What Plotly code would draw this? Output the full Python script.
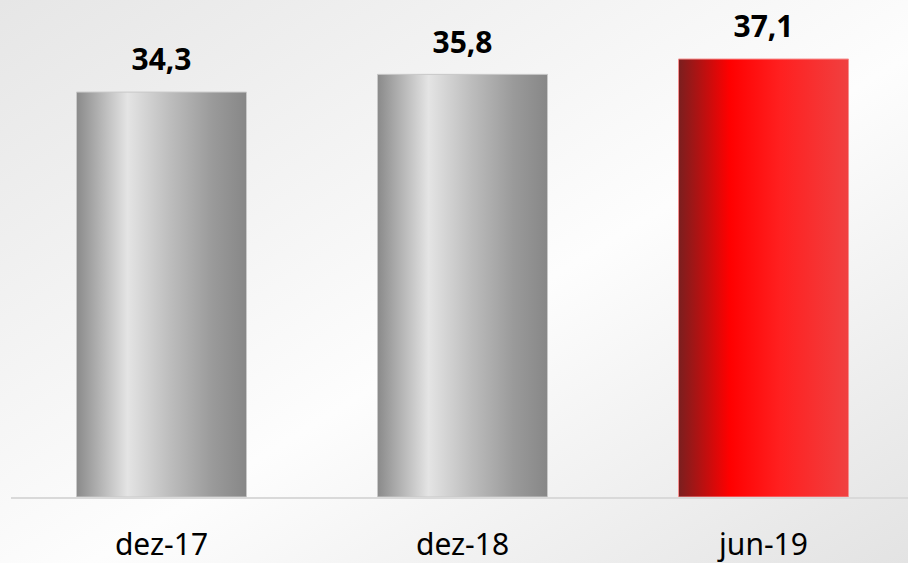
import base64
import plotly.graph_objects as go

categories = ["dez-17", "dez-18", "jun-19"]
values = [34.3, 35.8, 37.1]
label_texts = ["34,3", "35,8", "37,1"]

gray_scale = [[0.0, "#8a8a8a"], [0.3, "#e4e4e4"], [0.55, "#bdbdbd"], [0.8, "#9a9a9a"], [1.0, "#878787"]]
red_scale = [[0.0, "#7a1f1f"], [0.3, "#ff0000"], [0.6, "#ff2020"], [1.0, "#f04040"]]
scales = [gray_scale, gray_scale, red_scale]
borders = ["#c8c8c8", "#c8c8c8", "#f59090"]

half = 0.2824
fig = go.Figure()
for i, (cat, v) in enumerate(zip(categories, values)):
    xs = [i - half, i + half, i + half, i - half, i - half]
    ys = [0, 0, v, v, 0]
    fig.add_trace(go.Scatter(
        x=xs, y=ys, mode="lines", fill="toself",
        line=dict(color=borders[i], width=1),
        fillgradient=dict(type="horizontal", colorscale=scales[i]),
        hoverinfo="skip", showlegend=False, name=cat,
    ))

fig.add_trace(go.Scatter(
    x=list(range(len(categories))), y=values, mode="markers+text",
    marker=dict(size=21, opacity=0),
    text=label_texts, textposition="top center",
    textfont=dict(family="Noto Sans", size=30, color="#000000", weight="bold"),
    showlegend=False, hoverinfo="skip",
))

svg = ('<svg xmlns="http://www.w3.org/2000/svg" width="908" height="563" preserveAspectRatio="none">'
       '<defs><linearGradient id="g" x1="0" y1="0" x2="1" y2="1">'
       '<stop offset="0" stop-color="#e6e6e6"/>'
       '<stop offset="0.55" stop-color="#fdfdfd"/>'
       '<stop offset="1" stop-color="#e3e3e3"/>'
       '</linearGradient></defs>'
       '<rect width="908" height="563" fill="url(#g)"/></svg>')
src = "data:image/svg+xml;base64," + base64.b64encode(svg.encode()).decode()

fig.update_layout(
    width=908, height=563,
    margin=dict(l=11, r=0, t=0, b=66),
    paper_bgcolor="rgba(0,0,0,0)", plot_bgcolor="rgba(0,0,0,0)",
    images=[dict(source=src, xref="paper", yref="paper", x=-0.0123, y=1,
                 sizex=1.0123, sizey=1.133, sizing="stretch", layer="below",
                 xanchor="left", yanchor="top")],
    xaxis=dict(range=[-0.5, 2.48], tickvals=list(range(len(categories))),
               ticktext=categories, showgrid=False, zeroline=False,
               showline=True, linecolor="#d9d9d9", linewidth=2, ticks="",
               ticklabelstandoff=20,
               tickfont=dict(family="Noto Sans", size=30, color="#000000"),
               fixedrange=True),
    yaxis=dict(range=[0, 42.1], visible=False, showgrid=False, zeroline=False,
               fixedrange=True),
    font=dict(family="Noto Sans"),
)

fig.write_html("out.html", config={"displayModeBar": False},
               post_script="document.body.style.margin='0';document.body.style.overflow='hidden';")
